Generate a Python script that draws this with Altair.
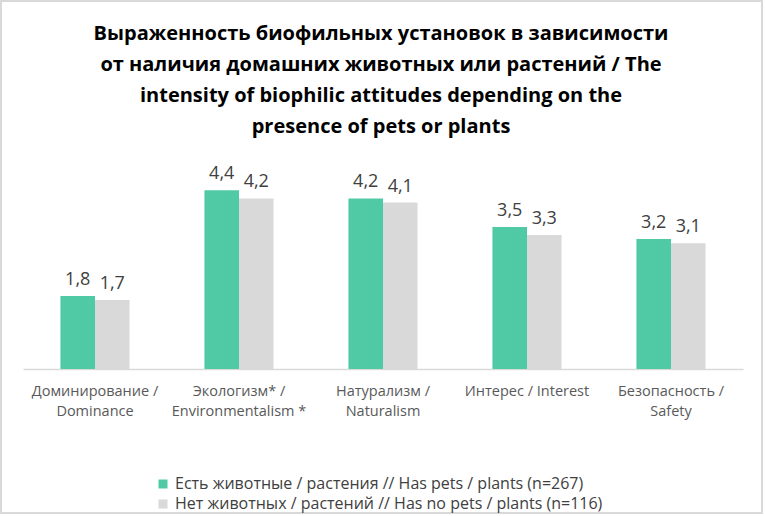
import altair as alt
import pandas as pd

# Biophilic attitude scales (two-line axis labels)
categories = [
    "Доминирование /\nDominance",
    "Экологизм* /\nEnvironmentalism *",
    "Натурализм /\nNaturalism",
    "Интерес / Interest",
    "Безопасность /\nSafety",
]
groups = [
    "Есть животные / растения // Has pets / plants (n=267)",
    "Нет животных / растений // Has no pets / plants (n=116)",
]
has_pets = [1.8, 4.4, 4.2, 3.5, 3.2]
no_pets = [1.7, 4.2, 4.1, 3.3, 3.1]
colors = ["#50caa4", "#d9d9d9"]

title_lines = [
    "Выраженность биофильных установок в зависимости",
    "от наличия домашних животных или растений / The",
    "intensity of biophilic attitudes depending on the",
    "presence of pets or plants",
]

rows = []
for cat, a, b in zip(categories, has_pets, no_pets):
    rows.append({"cat": cat, "group": groups[0], "value": a})
    rows.append({"cat": cat, "group": groups[1], "value": b})
df = pd.DataFrame(rows)

FONT = "Open Sans"

x_enc = alt.X(
    "cat:N",
    sort=categories,
    title=None,
    scale=alt.Scale(paddingInner=0.52, paddingOuter=0.26),
    axis=alt.Axis(
        labelAngle=0,
        labelExpr="split(datum.label, '\\n')",
        labelFont=FONT,
        labelFontSize=14.5,
        labelColor="#595959",
        labelLineHeight=20,
        labelPadding=15,
        labelBaseline="top",
        labelLimit=0,
        ticks=False,
        domainColor="#d9d9d9",
        domainWidth=1.5,
        grid=False,
    ),
)
y_enc = alt.Y("value:Q", scale=alt.Scale(domain=[0, 5]), axis=None)
xo = alt.XOffset("group:N", sort=groups)

base = alt.Chart(df)

bars = base.mark_bar().encode(
    x=x_enc,
    xOffset=xo,
    y=y_enc,
    color=alt.Color(
        "group:N",
        sort=groups,
        scale=alt.Scale(domain=groups, range=colors),
        legend=alt.Legend(
            title=None,
            orient="none",
            legendX=132,
            legendY=310,
            direction="vertical",
            symbolType="square",
            symbolSize=81,
            symbolStrokeWidth=0,
            labelFont=FONT,
            labelFontSize=16,
            labelColor="#404040",
            labelOffset=4,
            labelLimit=0,
            rowPadding=4,
        ),
    ),
)

labels = base.mark_text(
    baseline="bottom", dy=-7, font=FONT, fontSize=18, color="#404040"
).transform_calculate(
    label="replace(format(datum.value, '.1f'), '.', ',')"
).encode(
    x=x_enc,
    xOffset=xo,
    y=y_enc,
    text="label:N",
)

# Chart heading, drawn as a multi-line text block above the bars
heading = alt.Chart(pd.DataFrame({"k": [0]})).mark_text(
    text=title_lines,
    font=FONT,
    fontSize=20,
    fontWeight="bold",
    color="#000000",
    lineHeight=31,
    align="center",
    baseline="alphabetic",
).encode(x=alt.value(358), y=alt.value(-126))

# Thin frame around the whole figure
border = alt.Chart(pd.DataFrame({"k": [0]})).mark_rect(
    fill=None, stroke="#d9d9d9", strokeWidth=2
).encode(
    x=alt.value(-22), x2=alt.value(739), y=alt.value(-165), y2=alt.value(347)
)

chart = alt.layer(border, heading, bars, labels).properties(
    width=720,
    height=203,
    autosize=alt.AutoSizeParams(type="none"),
    padding={"left": 23, "top": 166, "right": 22, "bottom": 147},
).configure(
    background="white",
    view=alt.ViewConfig(stroke=None),
)

chart.save("out.html", embed_options={"renderer": "svg", "actions": False})
